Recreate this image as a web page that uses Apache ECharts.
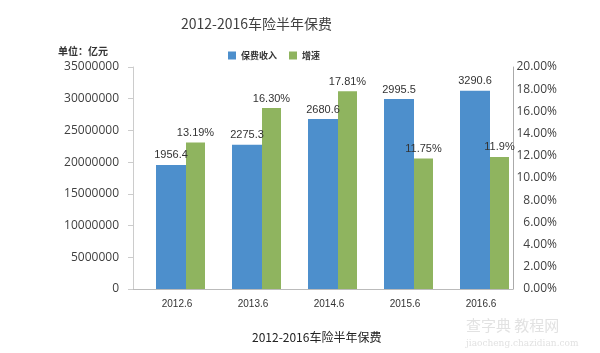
<!DOCTYPE html>
<html>
<head>
<meta charset="utf-8">
<script src="https://cdn.jsdelivr.net/npm/echarts@6/dist/echarts.min.js"></script>
<style>
  html, body { margin: 0; padding: 0; background: #fff; }
  #myChart { width: 600px; height: 353px; }
</style>
</head>
<body>
<div id="myChart"></div>
<script>
  // 数据
  var categories = ['2012.6', '2013.6', '2014.6', '2015.6', '2016.6'];
  // 柱高按图上读数（亿元 x 10000），标签用原图文字
  var incomeHeights = [19564000, 22753000, 26806000, 29955000, 31260000];
  var incomeLabels = ['1956.4', '2275.3', '2680.6', '2995.5', '3290.6'];
  var growth = [13.19, 16.30, 17.81, 11.75, 11.9];
  var growthLabels = ['13.19%', '16.30%', '17.81%', '11.75%', '11.9%'];
  var spacer = [0, 0, 0, 0, 0];

  var font = 'Noto Sans CJK SC, sans-serif';
  var numFont = 'Open Sans, sans-serif';
  var barFont = 'Liberation Sans, Arial, sans-serif';
  var myChart = echarts.init(document.getElementById('myChart'));
  myChart.setOption({
    animation: false,
    textStyle: { fontFamily: font },
    title: {
      text: '2012-2016车险半年保费',
      left: 176,
      top: 12,
      textStyle: { fontSize: 14, fontWeight: 'normal', color: '#404040', fontFamily: font }
    },
    legend: {
      data: ['保费收入', '增速'],
      left: 223,
      top: 46,
      icon: 'rect',
      itemWidth: 8,
      itemHeight: 8,
      itemGap: 12,
      textStyle: { fontSize: 9, fontWeight: 'bold', color: '#333' }
    },
    grid: { left: 133, right: 87, top: 67, bottom: 64 },
    xAxis: {
      type: 'category',
      data: categories,
      axisLine: { lineStyle: { color: '#bbb' } },
      axisTick: { length: 4, lineStyle: { color: '#bbb' } },
      axisLabel: { fontSize: 10, color: '#333', margin: 10, padding: [0, 0, 0, 12], fontFamily: barFont }
    },
    yAxis: [
      {
        type: 'value',
        min: 0,
        max: 35000000,
        interval: 5000000,
        splitLine: { show: false },
        axisLine: { show: true, lineStyle: { color: '#ccc' } },
        axisTick: { show: true, length: 5, lineStyle: { color: '#ccc' } },
        axisLabel: {
          fontSize: 12, color: '#404040', margin: 14, fontFamily: numFont,
          formatter: function (v) { return String(v); }
        }
      },
      {
        type: 'value',
        min: 0,
        max: 20,
        interval: 2,
        splitLine: { show: false },
        axisLine: { show: true, lineStyle: { color: '#aaa' } },
        axisTick: { show: false },
        axisLabel: {
          fontSize: 12, color: '#404040', margin: 44, align: 'right', fontFamily: numFont,
          formatter: function (v) { return v.toFixed(2) + '%'; }
        }
      }
    ],
    series: [
      {
        name: 'spacer',
        type: 'bar',
        data: spacer,
        barWidth: 19,
        barGap: '0%',
        silent: true,
        itemStyle: { color: 'rgba(0,0,0,0)' }
      },
      {
        name: '保费收入',
        type: 'bar',
        data: incomeHeights,
        barWidth: 30,
        barGap: '0%',
        itemStyle: { color: '#4d8fcc' },
        label: {
          show: true, position: 'top', distance: 4, fontSize: 11, color: '#333', fontFamily: barFont,
          formatter: function (p) { return incomeLabels[p.dataIndex]; }
        }
      },
      {
        name: '增速',
        type: 'bar',
        yAxisIndex: 1,
        data: growth,
        barWidth: 19,
        barGap: '0%',
        itemStyle: { color: '#8fb45f' },
        label: {
          show: true, position: 'top', distance: 4, fontSize: 11, color: '#333', fontFamily: barFont,
          formatter: function (p) { return growthLabels[p.dataIndex]; }
        }
      }
    ],
    graphic: [
      {
        type: 'text', left: 58, top: 46,
        style: { text: '单位：亿元', fontSize: 10, fontWeight: 'bold', fill: '#333', fontFamily: font }
      },
      {
        type: 'text', left: 252, top: 331,
        style: { text: '2012-2016车险半年保费', fontSize: 12, fill: '#222', fontFamily: font }
      },
      {
        type: 'text', left: 466, top: 318,
        style: { text: '查字典 教程网', fontSize: 15, fill: '#e2e2e2', fontFamily: font }
      },
      {
        type: 'text', left: 466, top: 339,
        style: { text: 'jiaocheng.chazidian.com', fontSize: 9, fill: '#e2e2e2', fontFamily: 'DejaVu Serif, serif' }
      }
    ]
  });
</script>
</body>
</html>
